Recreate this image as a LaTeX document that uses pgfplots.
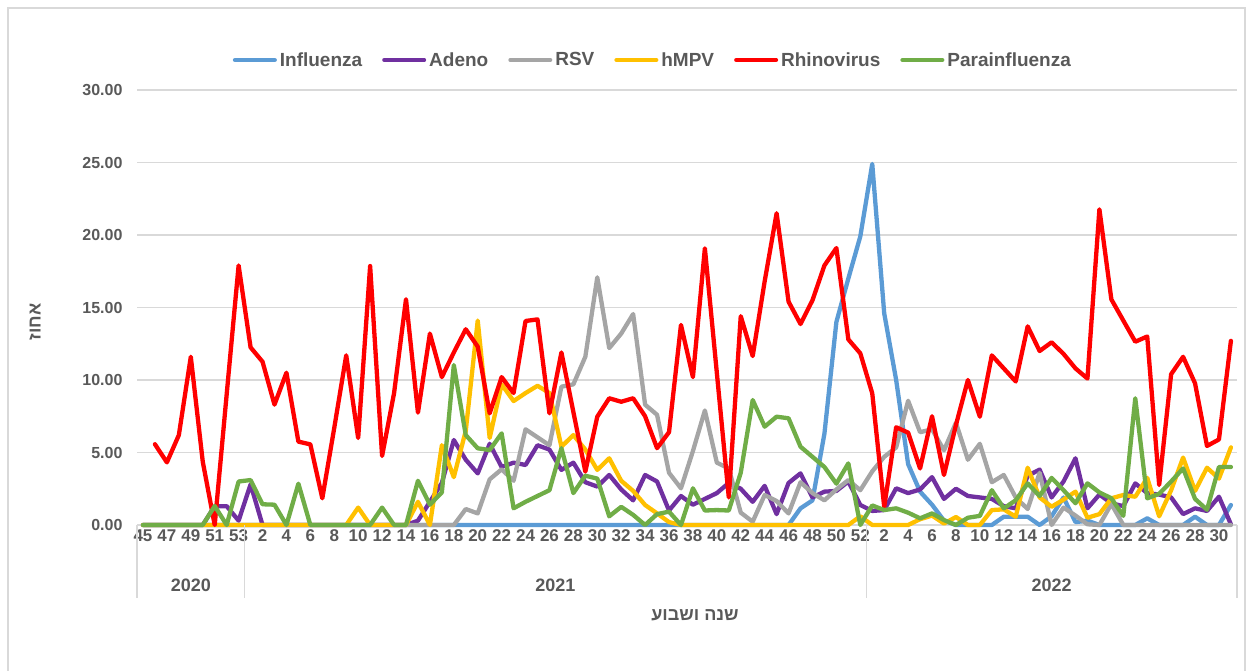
\documentclass[border=0pt]{standalone}
\usepackage{fontspec}
\setmainfont{Liberation Sans}
\newfontfamily\hebfont[Script=Hebrew]{Liberation Sans}
\TeXXeTstate=1
\usepackage{pgfplots}
\usepackage{pgfplotstable}
\pgfplotsset{compat=1.18}
\definecolor{cInf}{HTML}{5B9BD5}
\definecolor{cAde}{HTML}{7030A0}
\definecolor{cRSV}{HTML}{A5A5A5}
\definecolor{cHMP}{HTML}{FFC000}
\definecolor{cRhi}{HTML}{FF0000}
\definecolor{cPar}{HTML}{70AD47}
\definecolor{gridgray}{HTML}{D9D9D9}
\definecolor{txtgray}{HTML}{595959}

\pgfplotstableread{
i infl adeno rsv hmpv rhino para
0 0 0 0 0 nan 0
1 0 0 0 0 5.57 0
2 0 0 0 0 4.32 0
3 0 0 0 0 6.2 0
4 0 0 0 0 11.6 0
5 0 0 0 0 4.37 0
6 0 1.3 0 0 0 1.31
7 0 1.3 0 0 9.0 0
8 0 0.3 0 0 17.9 3.0
9 0 2.8 0 0 12.25 3.1
10 0 0 0 0 11.26 1.43
11 0 0 0 0 8.3 1.4
12 0 0 0 0 10.5 0
13 0 0 0 0 5.75 2.85
14 0 0 0 0 5.56 0
15 0 0 0 0 1.84 0
16 0 0 0 0 6.7 0
17 0 0 0 0 11.7 0
18 0 0 0 1.2 6.0 0
19 0 0 0 0 17.86 0
20 0 0 0 0 4.76 1.2
21 0 0 0 0 9.08 0
22 0 0 0 0 15.57 0
23 0 0.3 0 1.6 7.75 3.05
24 0 1.6 0 0 13.2 1.4
25 0 2.9 0 5.5 10.2 2.25
26 0 5.86 0 3.3 11.9 11.03
27 0 4.5 1.1 6.5 13.5 6.2
28 0 3.56 0.8 14.1 12.3 5.29
29 0 5.6 3.15 6.0 7.7 5.17
30 0 4.0 3.84 9.7 10.2 6.32
31 0 4.3 3.05 8.55 9.1 1.15
32 0 4.14 6.6 9.1 14.07 1.6
33 0 5.5 6.05 9.6 14.18 2.0
34 0 5.2 5.5 9.1 7.7 2.4
35 0 3.8 9.54 5.4 11.9 5.3
36 0 4.3 9.7 6.2 7.8 2.2
37 0 2.95 11.6 5.2 3.68 3.4
38 0 2.65 17.08 3.8 7.47 3.2
39 0 3.45 12.2 4.6 8.74 0.6
40 0 2.45 13.2 3.05 8.5 1.25
41 0 1.7 14.55 2.35 8.74 0.7
42 0 3.45 8.3 1.38 7.5 0
43 0 3.0 7.6 0.8 5.3 0.75
44 0 1.0 3.6 0.2 6.4 0.92
45 0 2.0 2.53 0 13.8 0
46 0 1.4 5.1 0 10.2 2.53
47 0 1.8 7.9 0 19.08 1.0
48 0 2.2 4.3 0 10.5 1.03
49 0 2.9 3.9 0 1.9 1.0
50 0 2.5 0.85 0 14.4 3.6
51 0 1.6 0.23 0 11.65 8.62
52 0 2.7 2.07 0 16.8 6.78
53 0 0.75 1.65 0 21.5 7.47
54 0 2.9 0.8 0 15.4 7.36
55 1.15 3.56 2.95 0 13.86 5.4
56 1.7 1.9 2.2 0 15.5 4.7
57 6.3 2.3 1.7 0 17.9 4.0
58 14.0 2.35 2.45 0 19.1 2.85
59 17.0 3.0 3.1 0 12.8 4.25
60 19.9 1.38 2.4 0.6 11.84 0
61 24.9 0.97 3.7 0 9.08 1.35
62 14.6 1.03 4.7 0 1.26 1.03
63 10.0 2.53 5.35 0 6.74 1.15
64 4.2 2.2 8.57 0 6.37 0.85
65 2.3 2.45 6.4 0.4 3.9 0.46
66 1.4 3.3 6.6 0.65 7.5 0.8
67 0.3 1.8 5.15 0.1 3.45 0.34
68 0 2.5 7.05 0.55 6.9 0
69 0 2.0 4.5 0 10.0 0.5
70 0 1.9 5.6 0 7.47 0.63
71 0 1.8 2.95 1.03 11.7 2.4
72 0.57 1.3 3.45 1.08 10.8 1.15
73 0.57 1.15 1.9 0.57 9.9 1.7
74 0.57 3.4 1.1 3.95 13.7 2.87
75 0 3.82 3.6 1.9 12.0 2.0
76 0.6 1.9 0 1.26 12.6 3.25
77 1.9 3.0 1.2 1.75 11.8 2.4
78 0.2 4.6 0.65 2.3 10.8 1.5
79 0.3 1.15 0.05 0.5 10.1 2.87
80 0 2.1 0 0.75 21.77 2.25
81 0 1.5 1.45 1.84 15.56 1.84
82 0 1.3 0 2.07 14.1 0.63
83 0 2.87 0 1.95 12.64 8.74
84 0.46 2.2 0 3.25 13.0 1.84
85 0 2.1 0 0.6 2.76 2.15
86 0 1.9 0 2.4 10.4 3.0
87 0 0.75 0 4.65 11.6 3.9
88 0.57 1.15 0 2.35 9.77 1.8
89 0 0.97 0 3.95 5.45 1.05
90 0 1.95 0 3.2 5.9 4.0
91 1.38 0.05 0 5.35 12.7 4.0
}\datatable

\begin{document}
\begin{tikzpicture}[x=1pt,y=1pt]
\path[use as bounding box] (0,0) rectangle (1251,670);
\draw[gridgray, line width=1.3pt] (8,-5) -- (8,662) -- (1245,662) -- (1245,-5);
\begin{axis}[
  at={(137pt,145pt)}, anchor=south west,
  scale only axis, width=1100pt, height=435pt,
  xmin=-0.5, xmax=91.5, ymin=0, ymax=30,
  clip=false,
  xtick={0,2,...,90},
  xticklabels={45,47,49,51,53,2,4,6,8,10,12,14,16,18,20,22,24,26,28,30,32,34,36,38,40,42,44,46,48,50,52,2,4,6,8,10,12,14,16,18,20,22,24,26,28,30},
  ytick={0,5,...,30},
  /pgf/number format/fixed,
  /pgf/number format/fixed zerofill,
  /pgf/number format/precision=2,
  /pgf/number format/assume math mode=true,
  ymajorgrids,
  grid style={draw=gridgray, line width=1.3pt},
  axis x line*=bottom, axis y line*=left,
  x axis line style={draw=gridgray, line width=1.3pt, -},
  y axis line style={draw=none},
  major tick length=0pt,
  yticklabel style={font=\bfseries\fontsize{16}{16}\selectfont, text=txtgray, xshift=-11pt},
  xticklabel style={font=\bfseries\fontsize{17}{17}\selectfont, text=txtgray, yshift=-1pt},
  legend style={at={(0.4695,1.069)}, anchor=center, draw=none, fill=none,
    legend columns=-1, font=\bfseries\fontsize{19}{19}\selectfont, text=txtgray,
    /tikz/every even column/.append style={column sep=17pt},
    nodes={inner xsep=3pt}},
  legend image code/.code={\draw[#1, line width=4pt, line cap=round] (0pt,0pt) -- (40pt,0pt);},
  every axis plot/.append style={line width=4.3pt, line join=round, line cap=round},
]
\addplot[cInf] table[x=i, y=infl] {\datatable};
\addplot[cAde] table[x=i, y=adeno] {\datatable};
\addplot[cRSV] table[x=i, y=rsv] {\datatable};
\addplot[cHMP] table[x=i, y=hmpv] {\datatable};
\addplot[cRhi] table[x=i, y=rhino] {\datatable};
\addplot[cPar] table[x=i, y=para] {\datatable};
\legend{Influenza,Adeno,RSV,hMPV,Rhinovirus,Parainfluenza}
\draw[gridgray, line width=1.3pt] (axis cs:-0.5,0) -- ++(0pt,-73pt);
\draw[gridgray, line width=1.3pt] (axis cs:8.5,0) -- ++(0pt,-73pt);
\draw[gridgray, line width=1.3pt] (axis cs:60.5,0) -- ++(0pt,-73pt);
\draw[gridgray, line width=1.3pt] (axis cs:91.5,0) -- ++(0pt,-73pt);
\node[font=\bfseries\fontsize{18}{18}\selectfont, text=txtgray, yshift=-60pt] at (axis cs:4,0) {2020};
\node[font=\bfseries\fontsize{18}{18}\selectfont, text=txtgray, yshift=-60pt] at (axis cs:34.5,0) {2021};
\node[font=\bfseries\fontsize{18}{18}\selectfont, text=txtgray, yshift=-60pt] at (axis cs:76,0) {2022};
\end{axis}
\node[font=\hebfont\bfseries\fontsize{18}{18}\selectfont, text=txtgray] at (695,55) {\beginR שנה ושבוע\endR};
\node[rotate=90, font=\hebfont\bfseries\fontsize{18}{18}\selectfont, text=txtgray] at (35,348) {\beginR אחוז\endR};
\end{tikzpicture}
\end{document}
